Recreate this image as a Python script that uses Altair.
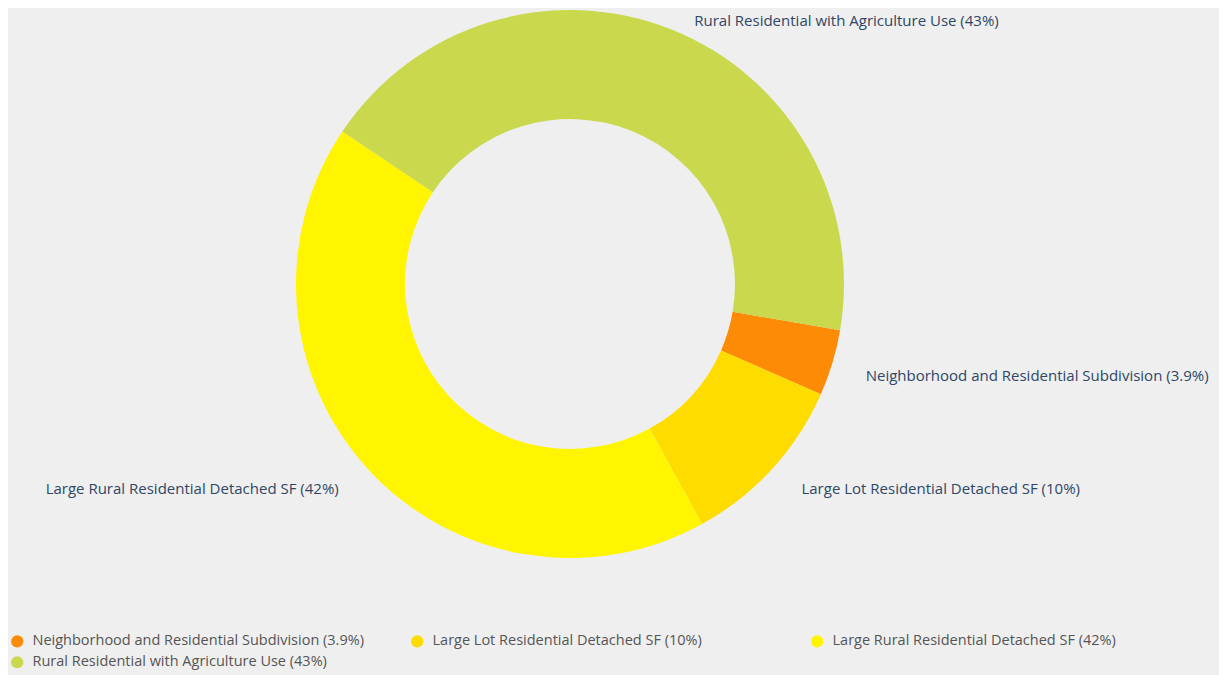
import math
import altair as alt
import pandas as pd

categories = [
    "Neighborhood and Residential Subdivision",
    "Large Lot Residential Detached SF",
    "Large Rural Residential Detached SF",
    "Rural Residential with Agriculture Use",
]
values = [3.9, 10.4, 42.4, 43.3]
pct_labels = ["3.9%", "10%", "42%", "43%"]
colors = ["#FD8B05", "#FEDC00", "#FFF500", "#C9D84C"]

start_angle = 1.74  # radians, clockwise from top

total = sum(values)
rows = []
cum = 0.0
for c, v, p in zip(categories, values, pct_labels):
    mid = cum + v / 2
    ang = start_angle + 2 * math.pi * mid / total
    side = "right" if (ang % (2 * math.pi)) < math.pi else "left"
    rows.append({
        "category": c,
        "label": f"{c} ({p})",
        "value": v,
        "start": cum,
        "end": cum + v,
        "mid": mid,
        "side": side,
    })
    cum += v
df = pd.DataFrame(rows)
labels = list(df["label"])

theta_scale = alt.Scale(domain=[0, total], range=[start_angle, start_angle + 2 * math.pi])

base = alt.Chart(df)

arcs = base.mark_arc(outerRadius=274, innerRadius=165, stroke=None).encode(
    theta=alt.Theta("start:Q", scale=theta_scale),
    theta2="end:Q",
    color=alt.Color(
        "label:N",
        scale=alt.Scale(domain=labels, range=colors),
        legend=alt.Legend(
            title=None,
            orient="none",
            legendX=2,
            legendY=626,
            direction="horizontal",
            columns=3,
            gridAlign="all",
            symbolType="circle",
            symbolSize=150,
            symbolStrokeWidth=0,
            labelFont="Open Sans",
            labelFontSize=14.5,
            labelColor="#555555",
            labelLimit=500,
            labelOffset=8,
            columnPadding=46,
            rowPadding=6,
        ),
    ),
    order=alt.Order("start:Q"),
)

text_style = dict(radius=292, font="Open Sans", fontSize=15, color="#2E4766", baseline="middle")

right_text = base.transform_filter("datum.side == 'right'").mark_text(
    align="left", dx=16, dy=8, **text_style
).encode(
    theta=alt.Theta("mid:Q", scale=theta_scale),
    text="label:N",
)
left_text = base.transform_filter("datum.side == 'left'").mark_text(
    align="right", dx=-16, dy=8, **text_style
).encode(
    theta=alt.Theta("mid:Q", scale=theta_scale),
    text="label:N",
)

chart = alt.layer(arcs, right_text, left_text).properties(
    width=1124,
    height=552,
    autosize=alt.AutoSizeParams(type="none"),
    padding={"left": 0, "top": 0, "right": 87, "bottom": 115},
    background="#EFEFEF",
).configure_view(stroke=None)

chart.save("out.html", embed_options={"renderer": "svg", "actions": False})
